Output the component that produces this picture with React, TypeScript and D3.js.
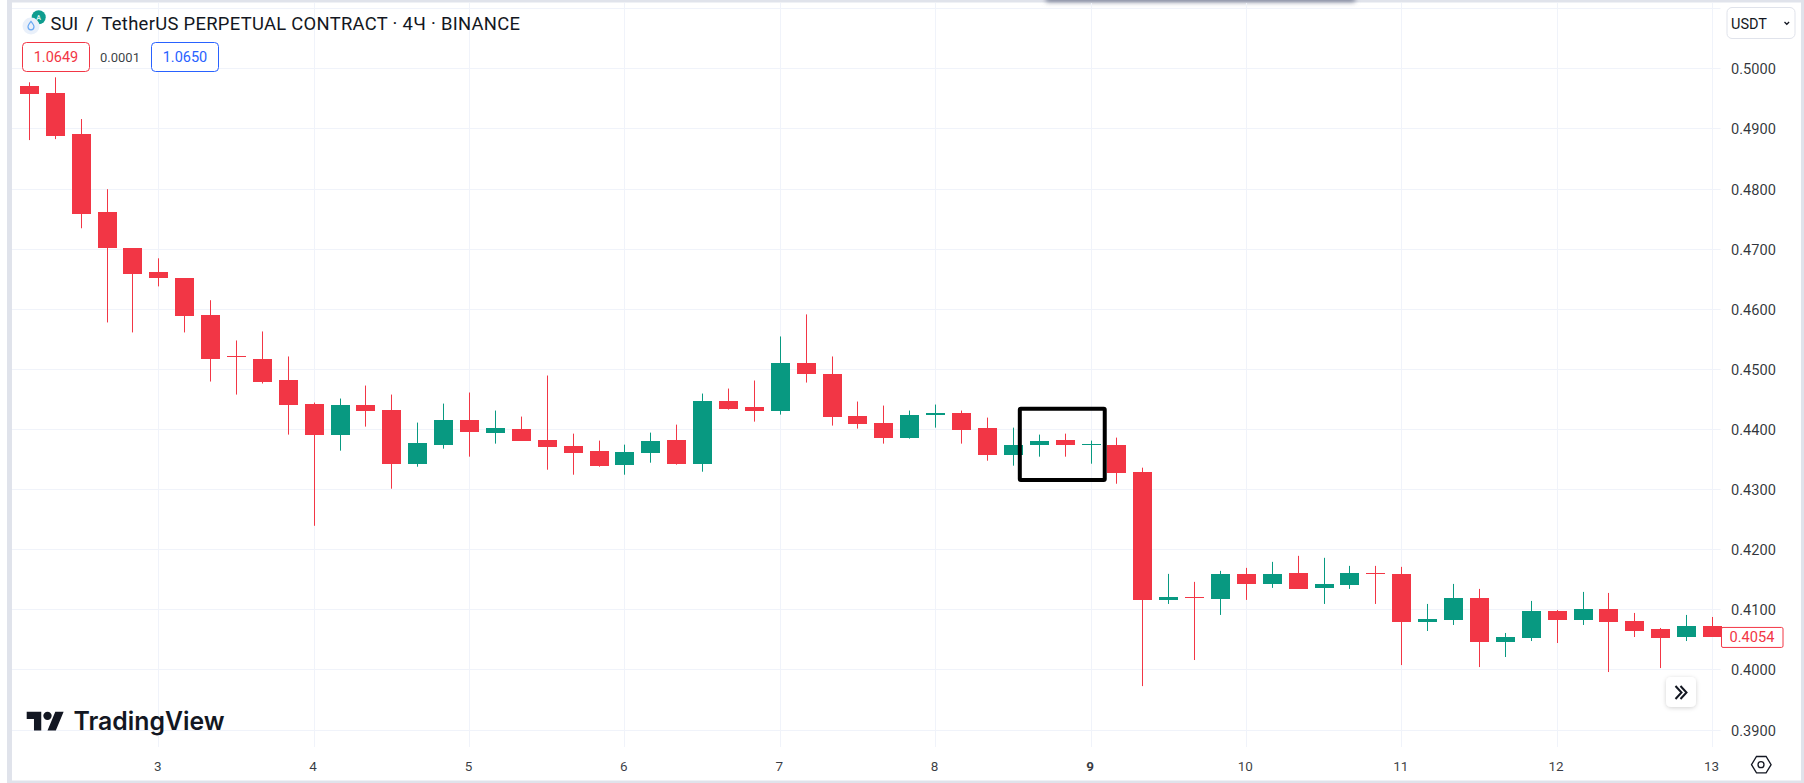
import React from "react";
import * as d3 from "d3";

const highs = [.49767,.4985,.49156,.47989,.47006,.46839,.46506,.46142,.45472,.45622,.45206,.44439,.44506,.44722,.44572,.44106,.44422,.44606,.44306,.44206,.44889,.43922,.43806,.43739,.43939,.44072,.44589,.44672,.44806,.45539,.45906,.45206,.44456,.44389,.44306,.44406,.44306,.44189,.44022,.43906,.43922,.43806,.43856,.43356,.41589,.41456,.41639,.41689,.41789,.41889,.41856,.41722,.41722,.41706,.41089,.41422,.41339,.40606,.41139,.40989,.41289,.41272,.40939,.40689,.40906,.40872];
const opens = [.49706,.49589,.48906,.47606,.47006,.46606,.46506,.45889,.45206,.45172,.44822,.44422,.43906,.44406,.44322,.43422,.43739,.44156,.43939,.44006,.43822,.43722,.43639,.43406,.43606,.43822,.43422,.44472,.44372,.44306,.45089,.44906,.44222,.44106,.43856,.44239,.44272,.44022,.43572,.43739,.43822,.43739,.43739,.43289,.41156,.41206,.41172,.41589,.41422,.41606,.41356,.41406,.41606,.41589,.40789,.40822,.41189,.40456,.40522,.40972,.40822,.41006,.40806,.40672,.40539,.40722];
const closes = [.49572,.48872,.47572,.47006,.46572,.46506,.45872,.45172,.45189,.44789,.44406,.43906,.44406,.44306,.43422,.43772,.44156,.43956,.44022,.43806,.43706,.43606,.43389,.43622,.43806,.43422,.44472,.44339,.44306,.45089,.44906,.44206,.44089,.43856,.44239,.44272,.43989,.43572,.43739,.43806,.43739,.43756,.43272,.41156,.41206,.41189,.41589,.41422,.41589,.41339,.41422,.41606,.41589,.40789,.40839,.41189,.40456,.40539,.40972,.40822,.41006,.40789,.40639,.40522,.40722,.40539];
const lows = [.48806,.48822,.47339,.45772,.45606,.46372,.45606,.44789,.44572,.44756,.43906,.42389,.43639,.44039,.43006,.43372,.43672,.43539,.43756,.43806,.43322,.43239,.43372,.43239,.43439,.43406,.43289,.44322,.44122,.44239,.44772,.44056,.44006,.43756,.43839,.44022,.43756,.43472,.43389,.43539,.43539,.43422,.43089,.39722,.41089,.40156,.40906,.41156,.41356,.41339,.41089,.41339,.41089,.40072,.40639,.40739,.40039,.40206,.40472,.40439,.40739,.39956,.40539,.40022,.40472,.40539];

const dayTicks = [3, 4, 5, 6, 7, 8, 9, 10, 11, 12, 13];
const boldDay = 9;
const priceTicks = [0.51, 0.5, 0.49, 0.48, 0.47, 0.46, 0.45, 0.44, 0.43, 0.42, 0.41, 0.4, 0.39];
const lastPrice = 0.4054;
const annotationBars = [38.25, 41.53];
const annotationPrices = [0.44337, 0.43151];
const titleBase = "SUI";
const titleSlash = "/";
const titleRest = "TetherUS PERPETUAL CONTRACT · 4Ч · BINANCE";
const bidText = "1.0649";
const spreadText = "0.0001";
const askText = "1.0650";
const currency = "USDT";

const RED = "#f23645";
const GREEN = "#089981";
const GRID = "#f0f3fa";
const BAND = "#e0e3eb";
const TEXT = "#131722";
const FONT = "Roboto, sans-serif";

export default function App() {
  const x = d3.scaleLinear().domain([5, 65]).range([158.8, 1712.5]);
  const y = d3.scaleLinear().domain([0.5, 0.39]).range([68.8, 730]);
  const yBars = d3.scaleLinear().domain([0.5, 0.39]).range([68.3, 729.5]);
  const dayToIndex = (d: number) => 5 + (d - 3) * 6;
  const crisp = (v: number) => Math.round(v - 0.5) + 0.5;
  const bodyW = 19;

  return (
    <svg
      width={1804}
      height={783}
      viewBox="0 0 1804 783"
      style={{ position: "fixed", left: 0, top: 0, background: "#fff", fontFamily: FONT }}
    >
      <defs>
        <filter id="blurTop" x="-5%" y="-300%" width="110%" height="700%">
          <feGaussianBlur stdDeviation="2.8" />
        </filter>
        <filter id="btnShadow" x="-40%" y="-40%" width="180%" height="180%">
          <feDropShadow dx="0" dy="1" stdDeviation="2.2" floodColor="#000" floodOpacity="0.18" />
        </filter>
      </defs>

      {/* frame */}
      <rect x={7} y={0} width={1794} height={783} fill="#fff" />
      <rect x={7} y={0} width={5} height={783} fill={BAND} />
      <rect x={7} y={0} width={1797} height={2.5} fill={BAND} />
      <rect x={7} y={780.5} width={1797} height={2.5} fill={BAND} />
      <rect x={1801} y={0} width={3} height={783} fill={BAND} />
      <rect x={1046} y={-5} width={309} height={7} fill="#7d8398" filter="url(#blurTop)" />

      {/* grid */}
      {priceTicks.map((p) => (
        <line key={p} x1={12} x2={1720.5} y1={crisp(y(p))} y2={crisp(y(p))} stroke={GRID} />
      ))}
      {dayTicks.map((d) => (
        <line key={d} x1={crisp(x(dayToIndex(d)))} x2={crisp(x(dayToIndex(d)))} y1={3} y2={747} stroke={GRID} />
      ))}

      {/* candles */}
      {highs.map((h, i) => {
        const c = closes[i] >= opens[i] ? GREEN : RED;
        const cx = x(i);
        const top = yBars(Math.max(opens[i], closes[i]));
        const bot = yBars(Math.min(opens[i], closes[i]));
        return (
          <g key={i} fill={c}>
            <rect x={Math.round(cx - 0.5)} y={yBars(h)} width={1} height={yBars(lows[i]) - yBars(h)} />
            <rect x={Math.round(cx - bodyW / 2)} y={Math.round(top)} width={bodyW} height={Math.max(1, Math.round(bot) - Math.round(top))} />
          </g>
        );
      })}

      {/* annotation box */}
      <rect
        x={x(annotationBars[0])}
        y={yBars(annotationPrices[0])}
        width={x(annotationBars[1]) - x(annotationBars[0])}
        height={yBars(annotationPrices[1]) - yBars(annotationPrices[0])}
        fill="none"
        stroke="#000"
        strokeWidth={4}
        rx={1}
      />

      {/* header */}
      <circle cx={38.7} cy={17.3} r={7} fill="#0f9d8f" />
      <text x={38.7} y={20} fontSize={7} fontWeight={700} fill="#d8f2ee" textAnchor="middle">A</text>
      <circle cx={31} cy={26} r={8.5} fill="#e9f0fa" />
      <path d="M31 21.5c1.8 2.2 3 3.6 3 5.3a3 3 0 0 1-6 0c0-1.7 1.2-3.1 3-5.3z" fill="none" stroke="#6aa9f4" strokeWidth={1.2} />
      <text x={50.5} y={29.5} fontSize={18.4} fill={TEXT}>{titleBase}</text>
      <text x={90} y={29.5} fontSize={18.4} fill={TEXT} textAnchor="middle">{titleSlash}</text>
      <text x={101.4} y={29.5} fontSize={18.4} fill={TEXT} textLength={418.6} lengthAdjust="spacing">{titleRest}</text>

      <rect x={22.5} y={42.5} width={67} height={29} rx={4} fill="#fff" stroke={RED} />
      <text x={56} y={62} fontSize={14.5} fill={RED} textAnchor="middle">{bidText}</text>
      <text x={120} y={61.5} fontSize={13} fill={TEXT} fillOpacity={0.85} textAnchor="middle">{spreadText}</text>
      <rect x={151.5} y={42.5} width={67} height={29} rx={4} fill="#fff" stroke="#2962ff" />
      <text x={185} y={62} fontSize={14.5} fill="#2962ff" textAnchor="middle">{askText}</text>

      {/* currency box */}
      <rect x={1727} y={7.5} width={68} height={31} rx={5} fill="#fff" stroke={BAND} />
      <text x={1731} y={28.5} fontSize={14.5} fill={TEXT}>{currency}</text>
      <path d="M1784.5 22l2.3 2.3 2.3-2.3" fill="none" stroke={TEXT} strokeWidth={1.3} />

      {/* price axis */}
      {priceTicks.filter((p) => p < 0.505).map((p) => (
        <text key={p} x={1753.5} y={y(p) + 5.5} fontSize={14.6} fill={TEXT} fillOpacity={0.88} textAnchor="middle">
          {d3.format(".4f")(p)}
        </text>
      ))}
      <rect x={1721.5} y={y(lastPrice) - 10} width={61.5} height={20} rx={1.5} fill="#fff" stroke={RED} />
      <text x={1752} y={y(lastPrice) + 5} fontSize={14.6} fill={RED} textAnchor="middle">
        {d3.format(".4f")(lastPrice)}
      </text>

      {/* day axis */}
      {dayTicks.map((d) => (
        <text
          key={d}
          x={x(dayToIndex(d)) - 1}
          y={771}
          fontSize={13.5}
          fontWeight={d === boldDay ? 700 : 400}
          fill={TEXT}
          fillOpacity={0.85}
          textAnchor="middle"
        >
          {d}
        </text>
      ))}

      {/* scroll button */}
      <rect x={1666} y={677} width={30} height={30} rx={5} fill="#fff" filter="url(#btnShadow)" />
      <path d="M1675.5 686l6 6.5-6 6.5M1680.5 686l6 6.5-6 6.5" fill="none" stroke={TEXT} strokeWidth={2} />

      {/* settings */}
      <path d="M1751.5 764.7l5-8.2h9.6l5 8.2-5 8.2h-9.6z" fill="none" stroke={TEXT} strokeWidth={1.3} />
      <circle cx={1761} cy={764.7} r={3} fill="none" stroke={TEXT} strokeWidth={1.3} />

      {/* logo */}
      <g transform="translate(26.7,707.5) scale(1.04)" fill={TEXT}>
        <path d="M14 22H7V11H0V4h14v18zM28 22h-8l7.5-18h8L28 22z" />
        <circle cx={20} cy={8} r={4} />
      </g>
      <text x={73.5} y={730} fontFamily="Inter, sans-serif" fontWeight={600} fontSize={25} fill={TEXT} textLength={151} lengthAdjust="spacingAndGlyphs">
        TradingView
      </text>
    </svg>
  );
}
